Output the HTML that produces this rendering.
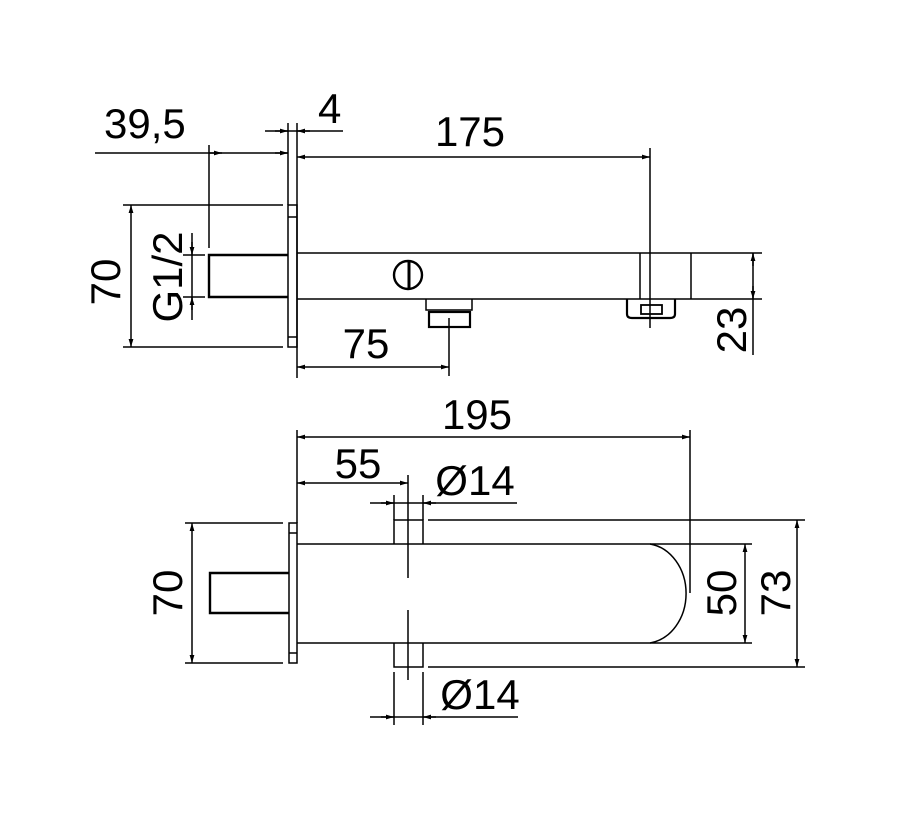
<!DOCTYPE html>
<html><head><meta charset="utf-8"><style>html,body{margin:0;padding:0;background:#fff}svg{display:block}</style></head>
<body>
<svg width="900" height="833" viewBox="0 0 900 833" xmlns="http://www.w3.org/2000/svg">
<defs>
<marker id="a" viewBox="0 0 10 6" refX="10" refY="3" markerWidth="8" markerHeight="5" orient="auto-start-reverse" markerUnits="userSpaceOnUse"><path d="M0,0 L10,3 L0,6z" fill="#000"/></marker>
</defs>
<g stroke="#000" stroke-width="1.5" fill="none">
<line x1="95" y1="153" x2="288" y2="153"/>
<line x1="209" y1="145" x2="209" y2="248"/>
<line x1="209" y1="153" x2="222" y2="153" marker-end="url(#a)"/>
<line x1="275" y1="153" x2="288" y2="153" marker-end="url(#a)"/>
<line x1="265" y1="131" x2="343" y2="131"/>
<line x1="288" y1="123" x2="288" y2="205"/>
<line x1="297" y1="123" x2="297" y2="378"/>
<line x1="275" y1="131" x2="288" y2="131" marker-end="url(#a)"/>
<line x1="310" y1="131" x2="297" y2="131" marker-end="url(#a)"/>
<line x1="297" y1="157" x2="650" y2="157" marker-start="url(#a)" marker-end="url(#a)"/>
<line x1="650" y1="148" x2="650" y2="328"/>
<rect x="288" y="205" width="9" height="142"/>
<line x1="288" y1="217" x2="297" y2="217"/>
<line x1="288" y1="337" x2="297" y2="337"/>
<path d="M288,255 H209 V297 H288" stroke-width="2.4"/>
<line x1="123" y1="205" x2="283" y2="205"/>
<line x1="123" y1="347" x2="283" y2="347"/>
<line x1="131" y1="205" x2="131" y2="347" marker-start="url(#a)" marker-end="url(#a)"/>
<line x1="183" y1="255" x2="205" y2="255"/>
<line x1="183" y1="297" x2="205" y2="297"/>
<line x1="192" y1="233" x2="192" y2="320"/>
<line x1="192" y1="242" x2="192" y2="255" marker-end="url(#a)"/>
<line x1="192" y1="310" x2="192" y2="297" marker-end="url(#a)"/>
<line x1="297" y1="253" x2="762" y2="253"/>
<line x1="297" y1="299" x2="762" y2="299"/>
<line x1="640" y1="253" x2="640" y2="299"/>
<line x1="691" y1="253" x2="691" y2="299"/>
<circle cx="408" cy="275" r="14" stroke-width="2.4"/>
<line x1="409" y1="262" x2="409" y2="288" stroke-width="3"/>
<path d="M426,299 V310 H472 V299"/>
<rect x="429" y="312" width="41" height="15" stroke-width="2.2"/>
<line x1="449" y1="318" x2="449" y2="376"/>
<line x1="297" y1="367" x2="449" y2="367" marker-start="url(#a)" marker-end="url(#a)"/>
<path d="M627,299 V314 Q627,318 632,318 H670 Q675,318 675,314 V299" stroke-width="2.2"/>
<rect x="641" y="305" width="21" height="9" stroke-width="1.8"/>
<line x1="753" y1="253" x2="753" y2="355"/>
<line x1="753" y1="253" x2="753" y2="266" marker-start="url(#a)"/>
<line x1="753" y1="286" x2="753" y2="299" marker-end="url(#a)"/>

<line x1="297" y1="430" x2="297" y2="523"/>
<line x1="297" y1="437" x2="690" y2="437" marker-start="url(#a)" marker-end="url(#a)"/>
<line x1="690" y1="430" x2="690" y2="593"/>
<line x1="297" y1="483" x2="408" y2="483" marker-start="url(#a)" marker-end="url(#a)"/>
<line x1="408" y1="475" x2="408" y2="578"/>
<line x1="408" y1="610" x2="408" y2="680"/>
<line x1="370" y1="503" x2="517" y2="503"/>
<line x1="394" y1="495" x2="394" y2="520"/>
<line x1="423" y1="495" x2="423" y2="520"/>
<line x1="381" y1="503" x2="394" y2="503" marker-end="url(#a)"/>
<line x1="436" y1="503" x2="423" y2="503" marker-end="url(#a)"/>
<rect x="289" y="523" width="8" height="140"/>
<line x1="289" y1="533" x2="297" y2="533"/>
<line x1="289" y1="653" x2="297" y2="653"/>
<path d="M289,573 H210 V613 H289" stroke-width="2.4"/>
<line x1="185" y1="523" x2="283" y2="523"/>
<line x1="185" y1="663" x2="283" y2="663"/>
<line x1="192" y1="523" x2="192" y2="663" marker-start="url(#a)" marker-end="url(#a)"/>
<path d="M297,544 H650 A42,50 0 0 1 650,643 H297"/>
<line x1="650" y1="544" x2="752" y2="544"/>
<line x1="650" y1="643" x2="752" y2="643"/>
<line x1="428" y1="520" x2="805" y2="520"/>
<line x1="428" y1="667" x2="805" y2="667"/>
<path d="M394,544 V520 H423 V544"/>
<path d="M394,643 V667 H423 V643"/>
<line x1="394" y1="672" x2="394" y2="725"/>
<line x1="423" y1="672" x2="423" y2="725"/>
<line x1="370" y1="717" x2="518" y2="717"/>
<line x1="381" y1="717" x2="394" y2="717" marker-end="url(#a)"/>
<line x1="436" y1="717" x2="423" y2="717" marker-end="url(#a)"/>
<line x1="745" y1="544" x2="745" y2="643" marker-start="url(#a)" marker-end="url(#a)"/>
<line x1="797" y1="520" x2="797" y2="667" marker-start="url(#a)" marker-end="url(#a)"/>
</g>
<g font-family="Liberation Sans, Arial, sans-serif" font-size="42" fill="#000">
<text x="104" y="138">39,5</text>
<text x="318" y="123">4</text>
<text x="470" y="146" text-anchor="middle">175</text>
<text x="366" y="358" text-anchor="middle">75</text>
<text transform="translate(120,282) rotate(-90)" text-anchor="middle">70</text>
<text transform="translate(182,277) rotate(-90)" text-anchor="middle">G1/2</text>
<text transform="translate(746,330) rotate(-90)" text-anchor="middle">23</text>
<text x="477" y="429" text-anchor="middle">195</text>
<text x="358" y="478" text-anchor="middle">55</text>
<text x="475" y="495" text-anchor="middle">Ø14</text>
<text x="480" y="709" text-anchor="middle">Ø14</text>
<text transform="translate(182,593) rotate(-90)" text-anchor="middle">70</text>
<text transform="translate(736,593) rotate(-90)" text-anchor="middle">50</text>
<text transform="translate(790,593) rotate(-90)" text-anchor="middle">73</text>
</g>
</svg>
</body></html>
